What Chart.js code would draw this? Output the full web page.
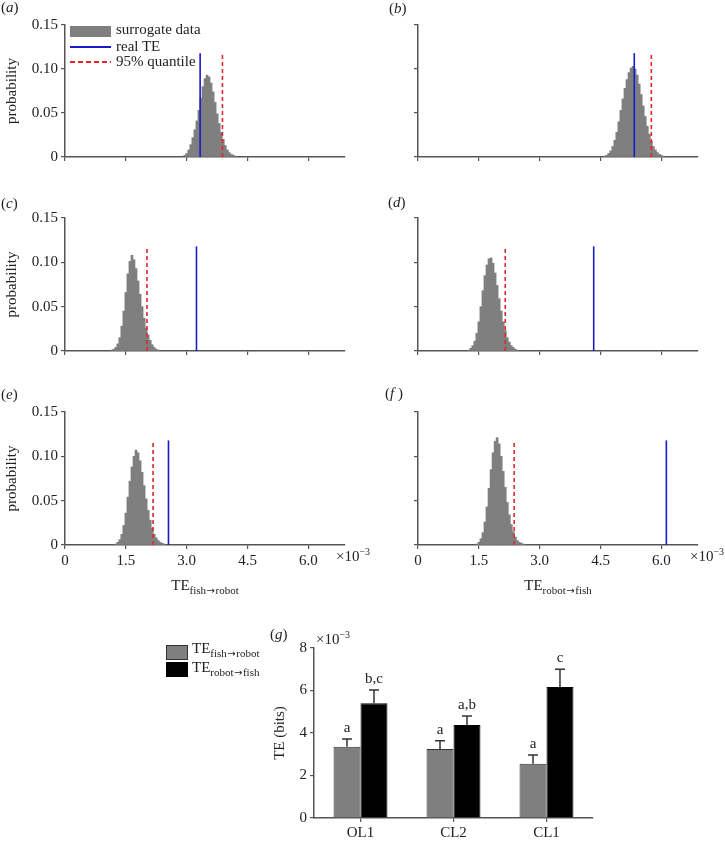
<!DOCTYPE html>
<html>
<head>
<meta charset="utf-8">
<script src="https://cdn.jsdelivr.net/npm/chart.js"></script>
<style>
  body { margin: 0; background: #fff; font-family: "Liberation Serif", serif; color: #222; }
  #wrap { position: relative; width: 725px; height: 842px; overflow: hidden; }
  canvas { position: absolute; }
  .t { position: absolute; font-size: 15px; line-height: 1; white-space: nowrap; }
  .t sub { font-size: 11px; vertical-align: -4px; line-height: 0; }
  .t sup { font-size: 10px; vertical-align: 6px; line-height: 0; }
  .t sub .ar { font-family: "DejaVu Sans", sans-serif; font-size: 10px; margin: 0 0.5px; }
  .box { position: absolute; }
</style>
</head>
<body>
<div id="wrap">
  <canvas id="h0" width="360" height="185"></canvas>
  <canvas id="h1" width="365" height="185"></canvas>
  <canvas id="h2" width="360" height="190"></canvas>
  <canvas id="h3" width="365" height="190"></canvas>
  <canvas id="h4" width="360" height="230"></canvas>
  <canvas id="h5" width="365" height="230"></canvas>
  <canvas id="bars" width="400" height="222"></canvas>

  <div class="t" style="left:1px;top:0px">(<i>a</i>)</div>
  <div class="t" style="left:389px;top:1px">(<i>b</i>)</div>
  <div class="t" style="left:1px;top:196px">(<i>c</i>)</div>
  <div class="t" style="left:388px;top:195px">(<i>d</i>)</div>
  <div class="t" style="left:1px;top:387px">(<i>e</i>)</div>
  <div class="t" style="left:385px;top:386px">(<i>f</i> )</div>
  <div class="t" style="left:270px;top:627px">(<i>g</i>)</div>

  <!-- legend of panel a -->
  <div class="box" style="left:70px;top:26px;width:41px;height:11px;background:#7f7f7f"></div>
  <div class="box" style="left:70px;top:46px;width:41px;height:2px;background:#1a1ac8"></div>
  <div class="box" style="left:70px;top:61px;width:41px;height:2px;background:repeating-linear-gradient(to right,#e0282a 0 5px,transparent 5px 8px)"></div>
  <div class="t" style="left:116px;top:22px">surrogate data</div>
  <div class="t" style="left:116px;top:39px">real TE</div>
  <div class="t" style="left:116px;top:54px">95% quantile</div>

  <!-- axis titles and exponents -->
  <div class="t" style="left:336px;top:549px">×10<sup>−3</sup></div>
  <div class="t" style="left:690px;top:549px">×10<sup>−3</sup></div>
  <div class="t" style="left:205px;top:578px;transform:translateX(-50%)">TE<sub>fish<span class="ar">→</span>robot</sub></div>
  <div class="t" style="left:558px;top:578px;transform:translateX(-50%)">TE<sub>robot<span class="ar">→</span>fish</sub></div>
  <div class="t" style="left:316px;top:632px">×10<sup>−3</sup></div>

  <!-- legend of panel g -->
  <div class="box" style="left:166px;top:645px;width:20px;height:13px;background:#7f7f7f;border:1px solid #333"></div>
  <div class="box" style="left:166px;top:662px;width:20px;height:13px;background:#000;border:1px solid #000"></div>
  <div class="t" style="left:192px;top:641px">TE<sub>fish<span class="ar">→</span>robot</sub></div>
  <div class="t" style="left:192px;top:660px">TE<sub>robot<span class="ar">→</span>fish</sub></div>
</div>

<script>
// histogram bins (width 0.05 x10^-3), first bin centre per panel a..f
const binWidth = 0.05;
const histStart = [2.95, 4.60, 1.15, 1.25, 1.25, 1.45];
const histA = [0.002, 0.004, 0.008, 0.014, 0.022, 0.031, 0.041, 0.053, 0.067, 0.080, 0.089, 0.093, 0.091, 0.084, 0.074, 0.062, 0.049, 0.038, 0.028, 0.020, 0.013, 0.008, 0.005, 0.003, 0.002, 0.001];
const histB = [0.001, 0.002, 0.004, 0.007, 0.012, 0.019, 0.028, 0.040, 0.053, 0.066, 0.078, 0.088, 0.096, 0.101, 0.103, 0.100, 0.093, 0.083, 0.071, 0.058, 0.046, 0.035, 0.026, 0.018, 0.012, 0.008, 0.005, 0.003, 0.002, 0.001];
const histC = [0.001, 0.002, 0.004, 0.008, 0.015, 0.028, 0.045, 0.066, 0.087, 0.101, 0.108, 0.103, 0.093, 0.079, 0.064, 0.050, 0.037, 0.026, 0.018, 0.012, 0.007, 0.004, 0.002, 0.001];
const histD = [0.001, 0.003, 0.006, 0.011, 0.020, 0.033, 0.050, 0.068, 0.085, 0.097, 0.104, 0.105, 0.099, 0.088, 0.074, 0.059, 0.045, 0.033, 0.023, 0.015, 0.010, 0.006, 0.004, 0.002, 0.001];
const histE = [0.001, 0.003, 0.006, 0.012, 0.022, 0.036, 0.054, 0.072, 0.088, 0.100, 0.107, 0.104, 0.095, 0.082, 0.067, 0.052, 0.039, 0.028, 0.019, 0.012, 0.008, 0.005, 0.003, 0.002, 0.001];
const histF = [0.001, 0.003, 0.007, 0.014, 0.026, 0.043, 0.064, 0.085, 0.104, 0.117, 0.121, 0.114, 0.100, 0.083, 0.065, 0.048, 0.034, 0.023, 0.015, 0.009, 0.005, 0.003, 0.002, 0.001];
const histograms = [histA, histB, histC, histD, histE, histF];
const realTE = [3.33, 5.33, 3.24, 4.33, 2.55, 6.12];
const quantile95 = [3.88, 5.75, 2.02, 2.15, 2.17, 2.37];
const markerTop = 0.118;
const probTicks = [0, 0.05, 0.10, 0.15];
const teTicks = [0, 1.5, 3.0, 4.5, 6.0];
const teMax = 6.9;

// panel g
const conditions = ['OL1', 'CL2', 'CL1'];
const teFishRobot = [3.35, 3.25, 2.55];
const teRobotFish = [5.40, 4.38, 6.16];
const semFishRobot = [0.37, 0.38, 0.42];
const semRobotFish = [0.62, 0.42, 0.84];
const lettersFishRobot = ['a', 'a', 'a'];
const lettersRobotFish = ['b,c', 'a,b', 'c'];
const bitsTicks = [0, 2, 4, 6, 8];

const FONT = '"Liberation Serif", serif';
const axisColor = '#555';
const textColor = '#222';
const grey = '#7f7f7f';
const blue = '#1a1ac8';
const red = '#e0282a';

// canvas placement per panel
const layout = [
  { left: 0,   top: 0,   padTop: 25, padRight: 15, yw: 65, xh: 28, yLabels: true,  xLabels: false },
  { left: 360, top: 0,   padTop: 25, padRight: 27, yw: 58, xh: 28, yLabels: false, xLabels: false },
  { left: 0,   top: 190, padTop: 28, padRight: 15, yw: 65, xh: 29, yLabels: true,  xLabels: false },
  { left: 360, top: 190, padTop: 28, padRight: 27, yw: 58, xh: 29, yLabels: false, xLabels: false },
  { left: 0,   top: 375, padTop: 37, padRight: 15, yw: 65, xh: 60, yLabels: true,  xLabels: true },
  { left: 360, top: 375, padTop: 37, padRight: 27, yw: 58, xh: 60, yLabels: false, xLabels: true }
];

const hidden = 'rgba(0,0,0,0)';
const gridOpts = { display: true, drawOnChartArea: false, drawTicks: true, tickLength: 4, color: axisColor, lineWidth: 1.2, offset: false };
const borderOpts = { display: true, color: axisColor, width: 1.5 };

histograms.forEach((hist, k) => {
  const L = layout[k];
  const el = document.getElementById('h' + k);
  el.style.left = L.left + 'px';
  el.style.top = L.top + 'px';
  const bins = hist.map((p, i) => ({ x: histStart[k] + i * binWidth, y: p }));

  new Chart(el, {
    type: 'bar',
    data: {
      datasets: [
        { type: 'line', data: [{ x: realTE[k], y: 0 }, { x: realTE[k], y: markerTop }],
          borderColor: blue, borderWidth: 1.6, pointRadius: 0, order: 0 },
        { type: 'line', data: [{ x: quantile95[k], y: 0 }, { x: quantile95[k], y: markerTop }],
          borderColor: red, borderWidth: 1.6, borderDash: [4, 3], pointRadius: 0, order: 0 },
        { type: 'bar', data: bins, backgroundColor: grey, borderWidth: 0,
          barPercentage: 1, categoryPercentage: 1, order: 1 }
      ]
    },
    options: {
      responsive: false,
      animation: false,
      events: [],
      layout: { padding: { top: L.padTop, right: L.padRight, left: 0, bottom: 0 } },
      plugins: { legend: { display: false }, tooltip: { enabled: false } },
      scales: {
        x: {
          type: 'linear', min: 0, max: teMax, offset: false,
          afterBuildTicks: s => { s.ticks = teTicks.map(v => ({ value: v })); },
          afterFit: s => { s.height = L.xh; },
          grid: gridOpts, border: borderOpts,
          ticks: { color: L.xLabels ? textColor : hidden, font: { family: FONT, size: 15 }, padding: 3,
                   maxRotation: 0, autoSkip: false, callback: v => v === 0 ? '0' : v.toFixed(1) }
        },
        y: {
          min: 0, max: 0.15,
          afterBuildTicks: s => { s.ticks = probTicks.map(v => ({ value: v })); },
          afterFit: s => { s.width = L.yw; },
          grid: gridOpts, border: borderOpts,
          ticks: { color: L.yLabels ? textColor : hidden, font: { family: FONT, size: 15 }, padding: 3,
                   callback: v => v === 0 ? '0' : v.toFixed(2) },
          title: { display: L.yLabels, text: 'probability', color: textColor,
                   font: { family: FONT, size: 15 }, padding: { top: 3, bottom: 0 } }
        }
      }
    }
  });
});

// error bars + significance letters for panel g
const errorBars = {
  id: 'errorBars',
  afterDatasetsDraw(chart) {
    const ctx = chart.ctx, y = chart.scales.y;
    const sems = [semFishRobot, semRobotFish];
    const letters = [lettersFishRobot, lettersRobotFish];
    chart.data.datasets.forEach((ds, i) => {
      chart.getDatasetMeta(i).data.forEach((bar, j) => {
        const top = y.getPixelForValue(ds.data[j] + sems[i][j]);
        ctx.save();
        ctx.strokeStyle = '#333';
        ctx.lineWidth = 1.5;
        ctx.beginPath();
        ctx.moveTo(bar.x, bar.y);
        ctx.lineTo(bar.x, top);
        ctx.moveTo(bar.x - 5, top);
        ctx.lineTo(bar.x + 5, top);
        ctx.stroke();
        ctx.fillStyle = textColor;
        ctx.font = '15px ' + FONT;
        ctx.textAlign = 'center';
        ctx.textBaseline = 'alphabetic';
        ctx.fillText(letters[i][j], bar.x, top - 7);
        ctx.restore();
      });
    });
  }
};

const barEl = document.getElementById('bars');
barEl.style.left = '250px';
barEl.style.top = '620px';
new Chart(barEl, {
  type: 'bar',
  data: {
    labels: conditions,
    datasets: [
      { label: 'TE fish→robot', data: teFishRobot, backgroundColor: grey, borderColor: '#333', borderWidth: 1,
        barPercentage: 1, categoryPercentage: 0.58 },
      { label: 'TE robot→fish', data: teRobotFish, backgroundColor: '#000', borderColor: '#000', borderWidth: 1,
        barPercentage: 1, categoryPercentage: 0.58 }
    ]
  },
  options: {
    responsive: false,
    animation: false,
    events: [],
    layout: { padding: { top: 28, right: 57, left: 0, bottom: 0 } },
    plugins: { legend: { display: false }, tooltip: { enabled: false } },
    scales: {
      x: {
        afterFit: s => { s.height = 24; },
        grid: gridOpts, border: borderOpts,
        ticks: { color: textColor, font: { family: FONT, size: 15 }, padding: 2 }
      },
      y: {
        min: 0, max: 8,
        afterBuildTicks: s => { s.ticks = bitsTicks.map(v => ({ value: v })); },
        afterFit: s => { s.width = 64; },
        grid: gridOpts, border: borderOpts,
        ticks: { color: textColor, font: { family: FONT, size: 15 }, padding: 3 },
        title: { display: true, text: 'TE (bits)', color: textColor,
                 font: { family: FONT, size: 15 }, padding: { top: 21, bottom: 0 } }
      }
    }
  },
  plugins: [errorBars]
});
</script>
</body>
</html>
